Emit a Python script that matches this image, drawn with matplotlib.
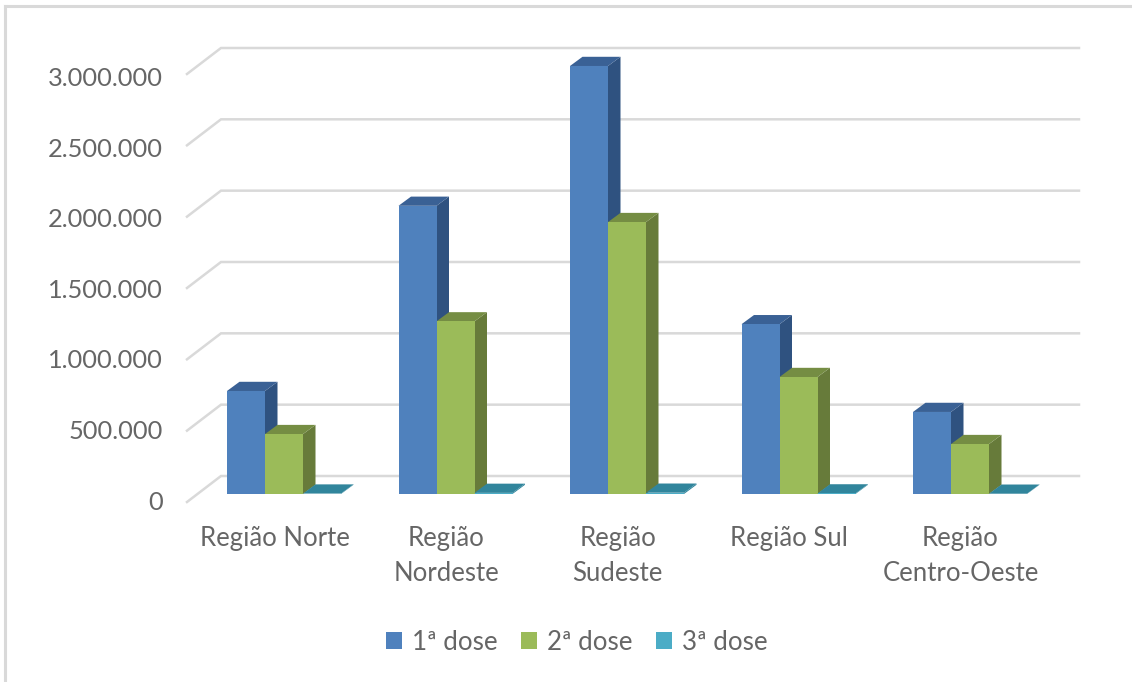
import matplotlib
matplotlib.use("Agg")
import matplotlib.pyplot as plt
from matplotlib.patches import Polygon, Rectangle
from matplotlib.lines import Line2D

plt.rcParams['font.family'] = ['Lato', 'DejaVu Sans']

# Doses applied per region
regions = ["Região Norte", "Região\nNordeste", "Região\nSudeste", "Região Sul", "Região\nCentro-Oeste"]
dose_names = ["1ª dose", "2ª dose", "3ª dose"]
dose_1 = [722000, 2020000, 3000000, 1190000, 575000]
dose_2 = [420000, 1210000, 1906000, 820000, 350000]
dose_3 = [3000, 8000, 9000, 4000, 2000]
y_ticks = [0, 500000, 1000000, 1500000, 2000000, 2500000, 3000000]
y_tick_labels = ["0", "500.000", "1.000.000", "1.500.000", "2.000.000", "2.500.000", "3.000.000"]

W, H = 1132, 682
GROUP_PX = 171.5      # horizontal distance between region groups
UNIT_PX = 142.67 / 1e6  # pixels per dose
ORIGIN_X, ORIGIN_Y = 284, 494

fig = plt.figure(figsize=(W / 100, H / 100), dpi=100, facecolor="white")
ax = fig.add_axes([0, 0, 1, 1])
ax.set_xlim(-ORIGIN_X / GROUP_PX, (W - ORIGIN_X) / GROUP_PX)
ax.set_ylim(-(H - ORIGIN_Y) / UNIT_PX, ORIGIN_Y / UNIT_PX)
ax.axis("off")

# Oblique projection offsets, in data units
dx = 1 / GROUP_PX
dy = 1 / UNIT_PX
BAR_W = 38 * dx
DEPTH_X, DEPTH_Y = 12.5 * dx, 9.2 * dy

GRID = "#d9d9d9"
TEXT = "#666666"

# Chart-area border along the top and left edges
x0, x1 = ax.get_xlim()
y0, y1 = ax.get_ylim()
ax.add_line(Line2D([x0 + 5 * dx] * 2, [y0, y1 - 6 * dy], color=GRID, lw=2.2))
ax.add_line(Line2D([x0 + 5 * dx, x1], [y1 - 6 * dy] * 2, color=GRID, lw=2.2))

# Gridlines: a short diagonal on the side wall, then the back wall
wall_left = (187 - ORIGIN_X) * dx
wall_back = (221 - ORIGIN_X) * dx
wall_right = (1079 - ORIGIN_X) * dx
LABEL_STEP = 70.5 / 71.33  # value labels sit slightly closer together than the gridlines
for t, label in zip(y_ticks, y_tick_labels):
    ax.plot([wall_left, wall_back, wall_right],
            [t - 8 * dy, t + 18 * dy, t + 18 * dy],
            color=GRID, lw=1.8, solid_joinstyle="miter", zorder=1)
    ax.text((163 - ORIGIN_X) * dx, t * LABEL_STEP - 8 * dy, label, ha="right", va="center",
            fontsize=18.3, color=TEXT)


def box(x, value, front, side, top, z):
    """Draw one oblique bar with its side and top faces."""
    ax.add_patch(Polygon([(x + BAR_W, 0), (x + BAR_W + DEPTH_X, DEPTH_Y),
                          (x + BAR_W + DEPTH_X, value + DEPTH_Y), (x + BAR_W, value)],
                         fc=side, ec="none", zorder=z))
    ax.add_patch(Polygon([(x, value), (x + DEPTH_X, value + DEPTH_Y),
                          (x + BAR_W + DEPTH_X, value + DEPTH_Y), (x + BAR_W, value)],
                         fc=top, ec="none", zorder=z))
    ax.add_patch(Rectangle((x, 0), BAR_W, value, fc=front, ec="none", zorder=z))


series = [
    (dose_1, "#4f81bd", "#2f5280", "#3a6195"),
    (dose_2, "#9bbb59", "#677b3a", "#758d43"),
    (dose_3, "#4bacc6", "#31859c", "#31859c"),
]
for i in range(len(regions)):
    left = i - 1.5 * BAR_W
    for j, (values, front, side, top) in enumerate(series):
        box(left + j * BAR_W, values[i], front, side, top, 3 + i + j * 0.1)
    ax.text(i - 9.5 * dx, -(526 - ORIGIN_Y) * dy, regions[i], ha="center", va="top",
            fontsize=18.5, color=TEXT, linespacing=1.48)

handles = [Rectangle((0, 0), 1, 1, fc=s[1], ec="none") for s in series]
ax.legend(handles, dose_names, loc="center", bbox_to_anchor=(576.5 / W, 1 - 642.5 / H), ncol=3,
          frameon=False, fontsize=18.7, labelcolor=TEXT, handlelength=0.62, handleheight=0.62,
          handletextpad=0.38, columnspacing=0.9, borderpad=0, borderaxespad=0)

fig.savefig("out.png", dpi=100)
